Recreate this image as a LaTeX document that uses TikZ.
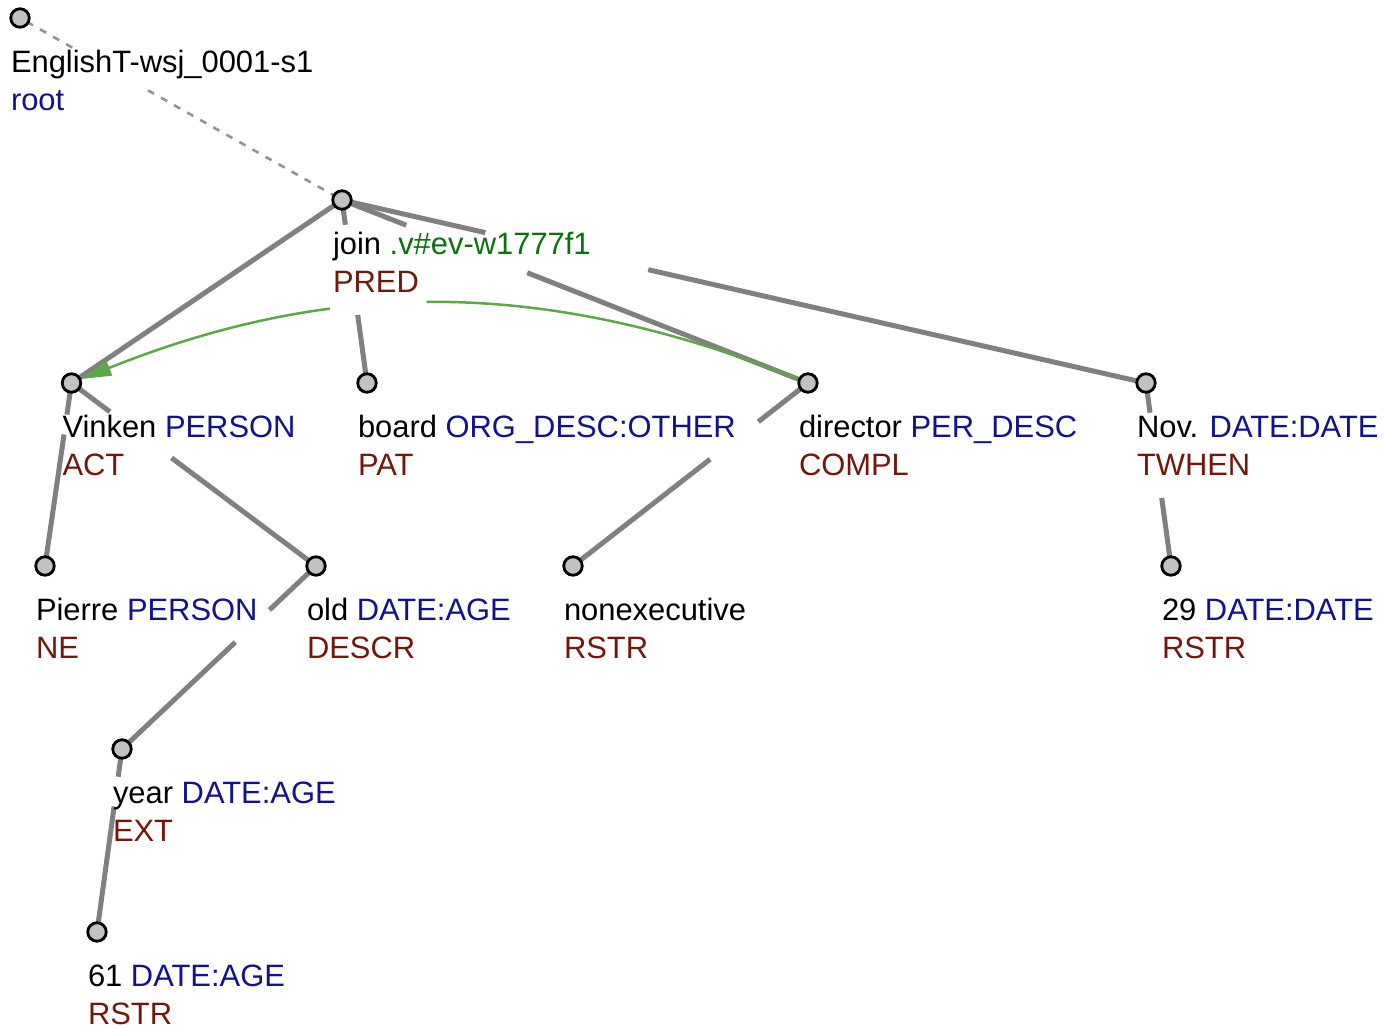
\documentclass[tikz,border=0pt]{standalone}
\usepackage{fontspec}
\setmainfont{Liberation Sans}
\usetikzlibrary{arrows.meta}
\pgfdeclarelayer{links}
\pgfsetlayers{links,main}

\definecolor{typeblue}{RGB}{18,18,140}
\definecolor{rolered}{RGB}{112,24,14}
\definecolor{lemmagreen}{RGB}{12,112,12}
\definecolor{corefgreen}{RGB}{94,166,74}
\definecolor{branchgray}{RGB}{128,128,128}
\definecolor{nodefill}{RGB}{194,194,194}

% blue semantic type after the word form
\newcommand\ntype[1]{{\color{typeblue}#1}}
% two-line label under a tree node: name, x, y, first line, second line
\newcommand\tlabel[5]{%
  \node[wordline] (#1w) at (#2-9,#3+54) {#4};
  \node[roleline] (#1r) at (#2-9,#3+92) {#5};}

\tikzset{
  tnode/.style={circle, draw=black, line width=2.8pt, fill=nodefill,
    minimum size=18.5pt, inner sep=0pt},
  wordline/.style={anchor=base west, inner sep=0pt, outer sep=0pt, text=black},
  roleline/.style={anchor=base west, inner sep=0pt, outer sep=0pt, text=rolered},
  branch/.style={draw=branchgray, line width=5pt},
  rootlink/.style={draw=branchgray!85, line width=2.6pt},
  coref/.style={draw=corefgreen, line width=2.5pt,
    -{Triangle[length=30pt,width=16pt]}},
}

\begin{document}
\begin{tikzpicture}[x=1pt, y=-1pt,
  every node/.append style={font=\fontsize{30.9pt}{38pt}\selectfont}]
\useasboundingbox (0,0) rectangle (1384,1028);

% tree nodes
\node[tnode] (R) at (20,18) {};
\node[tnode] (J) at (342,200) {};
\node[tnode] (V) at (71.5,383) {};
\node[tnode] (B) at (367,383) {};
\node[tnode] (D) at (808,383) {};
\node[tnode] (N) at (1146,383) {};
\node[tnode] (P) at (45,566) {};
\node[tnode] (O) at (316,566) {};
\node[tnode] (X) at (573,566) {};
\node[tnode] (T) at (1171,566) {};
\node[tnode] (Y) at (122,749) {};
\node[tnode] (S) at (97,932) {};

% labels
\tlabel{R}{20}{18}{EnglishT-wsj\_0001-s1}{\color{typeblue}root}
\tlabel{J}{342}{200}{join {\color{lemmagreen}.v\#ev-w1777f1}}{PRED}
\tlabel{V}{71.5}{383}{Vinken \ntype{PERSON}}{ACT}
\tlabel{B}{367}{383}{board \ntype{ORG\_DESC:OTHER}}{PAT}
\tlabel{D}{808}{383}{director \ntype{PER\_DESC}}{COMPL}
\tlabel{N}{1146}{383}{Nov. \ntype{DATE:DATE}}{TWHEN}
\tlabel{P}{45}{566}{Pierre \ntype{PERSON}}{NE}
\tlabel{O}{316}{566}{old \ntype{DATE:AGE}}{DESCR}
\tlabel{X}{573}{566}{nonexecutive}{RSTR}
\tlabel{T}{1171}{566}{29 \ntype{DATE:DATE}}{RSTR}
\tlabel{Y}{122}{749}{year \ntype{DATE:AGE}}{EXT}
\tlabel{S}{97}{932}{61 \ntype{DATE:AGE}}{RSTR}

\begin{pgfonlayer}{links}
  % dotted link from the sentence root; broken where it runs under the label
  \draw[rootlink, dash pattern=on 15pt off 8pt on 7pt off 8pt on 7pt off 8pt
    on 7pt off 87pt
    on 7pt off 8pt on 7pt off 8pt on 7pt off 8pt on 7pt off 8pt on 7pt off 8pt
    on 7pt off 8pt on 7pt off 8pt on 7pt off 8pt on 7pt off 8pt on 7pt off 8pt
    on 7pt off 8pt on 7pt off 8pt on 7pt off 8pt on 7pt off 8pt on 7pt off 8pt]
    (R.center) -- (J.center);

  % tree branches, each interrupted where it passes behind label text
  \draw[branch] (J.center) -- (V.center);
  \draw[branch, dash pattern=on 25pt off 91pt on 100pt] (J.center) -- (B.center);
  \draw[branch, dash pattern=on 69pt off 130pt on 320pt] (J.center) -- (D.center);
  \draw[branch, dash pattern=on 147pt off 167pt on 530pt] (J.center) -- (N.center);
  \draw[branch, dash pattern=on 32pt off 20pt on 150pt] (V.center) -- (P.center);
  \draw[branch, dash pattern=on 48pt off 77pt on 200pt] (V.center) -- (O.center);
  \draw[branch, dash pattern=on 63pt off 61pt on 190pt] (D.center) -- (X.center);
  \draw[branch, dash pattern=on 30pt off 86pt on 90pt] (N.center) -- (T.center);
  \draw[branch, dash pattern=on 64pt off 47pt on 170pt] (O.center) -- (Y.center);
  \draw[branch, dash pattern=on 28pt off 30pt on 140pt] (Y.center) -- (S.center);

  % coreference arrow
  \draw[coref, dash pattern=on 382pt off 97pt on 400pt]
    (D) .. controls (546,278) and (333.5,278) .. (V);
\end{pgfonlayer}
\end{tikzpicture}
\end{document}
